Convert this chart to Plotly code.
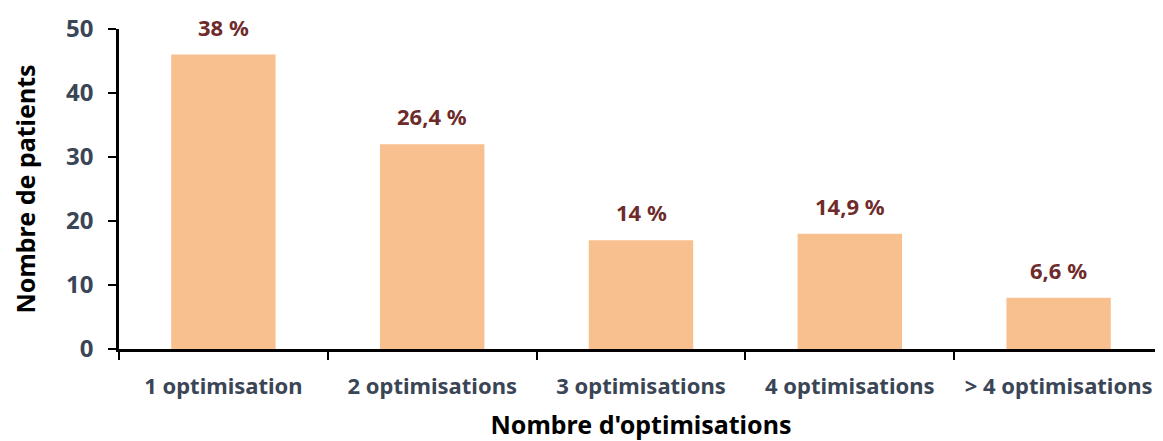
import plotly.graph_objects as go

categories = ["1 optimisation", "2 optimisations", "3 optimisations", "4 optimisations", "> 4 optimisations"]
patients = [46, 32, 17, 18, 8]
pct_labels = ["38 %", "26,4 %", "14 %", "14,9 %", "6,6 %"]

FONT = "Noto Sans"
fig = go.Figure()
fig.add_trace(go.Bar(x=categories, y=patients, marker=dict(color="#F8C08F", line=dict(width=0)),
                     width=0.5, hoverinfo="x+y"))
for c, v, t in zip(categories, patients, pct_labels):
    fig.add_annotation(x=c, y=v, text="<b>%s</b>" % t, showarrow=False, yanchor="bottom",
                       yshift=11, font=dict(family=FONT, size=22, color="#6E2B2B"))

fig.update_layout(
    width=1155, height=433,
    margin=dict(l=111, r=0, t=21, b=92),
    plot_bgcolor="white", paper_bgcolor="white",
    showlegend=False,
    xaxis=dict(
        type="category", tickson="boundaries", ticks="outside", ticklen=8, tickwidth=2,
        tickcolor="black", showline=True, linecolor="black", linewidth=2.5, showgrid=False,
        automargin=False, ticklabelstandoff=16,
        tickfont=dict(family=FONT, size=22, color="#3A4556", weight="bold"),
        title=dict(text="<b>Nombre d'optimisations</b>", font=dict(family=FONT, size=25, color="black"), standoff=26),
    ),
    yaxis=dict(
        range=[0, 50], tickvals=[0, 10, 20, 30, 40, 50], ticks="outside", ticklen=8, tickwidth=2,
        tickcolor="black", showline=True, linecolor="black", linewidth=2.5, showgrid=False, zeroline=False,
        automargin=False, ticklabelstandoff=10,
        tickfont=dict(family=FONT, size=24, color="#3A4556", weight="bold"),
        title=dict(text="<b>Nombre de patients</b>", font=dict(family=FONT, size=25, color="black"), standoff=25),
    ),
)
fig.write_html("out.html")
